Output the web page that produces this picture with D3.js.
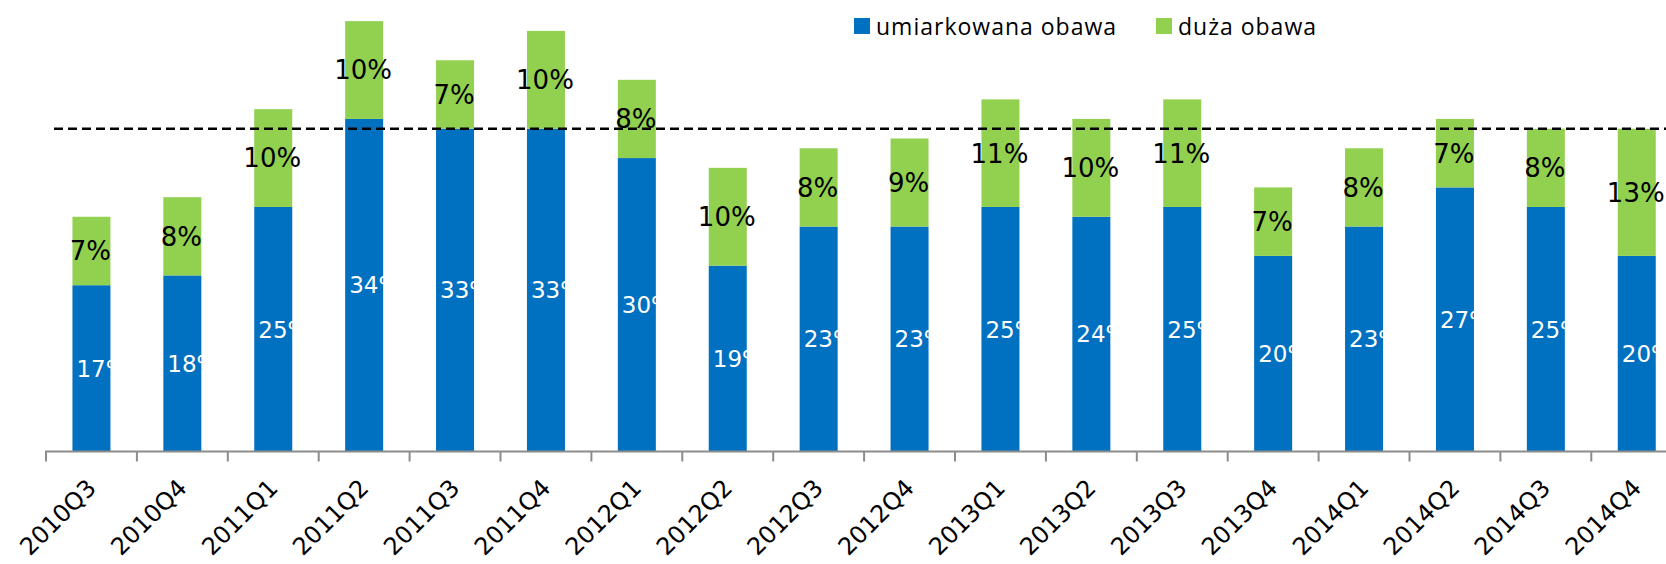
<!DOCTYPE html>
<html>
<head>
<meta charset="utf-8">
<script src="https://cdn.jsdelivr.net/npm/d3@7"></script>
<style>
    body { margin: 0; background: #fff; overflow: hidden; }
    svg { display: block; }
    .lbl { font-family: "DejaVu Sans", sans-serif; }
    .legend text { font-family: "Open Sans", sans-serif; font-size: 23px; letter-spacing: 1px; }
</style>
</head>
<body>
<svg id="chart" width="1666" height="564"></svg>
<script>
const QUARTERS = ["2010Q3", "2010Q4", "2011Q1", "2011Q2", "2011Q3", "2011Q4",
    "2012Q1", "2012Q2", "2012Q3", "2012Q4", "2013Q1", "2013Q2", "2013Q3",
    "2013Q4", "2014Q1", "2014Q2", "2014Q3", "2014Q4"];
const MODERATE = [17, 18, 25, 34, 33, 33, 30, 19, 23, 23, 25, 24, 25, 20, 23, 27, 25, 20];
const SERIOUS = [7, 8, 10, 10, 7, 10, 8, 10, 8, 9, 11, 10, 11, 7, 8, 7, 8, 13];
const SERIES = ["umiarkowana obawa", "duża obawa"];
const COLORS = ["#0070c0", "#92d050"];
const REF_LINE = 33;

window.addEventListener("load", () => {
    const svg = d3.select("#chart");
    const base = 451.5;

    const x = d3.scaleBand()
        .domain(QUARTERS)
        .range([46, 46 + 18 * 90.9])
        .paddingInner(0.582)
        .paddingOuter(0.291);
    const y = d3.scaleLinear().domain([0, 46.16]).range([base, 0]);

    let rows = QUARTERS.map((q, i) => ({q: q, a: MODERATE[i], b: SERIOUS[i]}));
    let stack = d3.stack().keys(["a", "b"])(rows);

    // bars
    svg.append("g").selectAll("g")
        .data(stack)
        .join("g")
        .attr("fill", (d, i) => COLORS[i])
        .selectAll("rect")
        .data(d => d)
        .join("rect")
        .attr("x", d => x(d.data.q))
        .attr("width", x.bandwidth())
        .attr("y", d => y(d[1]))
        .attr("height", d => y(d[0]) - y(d[1]));

    // x axis
    const axis = svg.append("g").attr("transform", "translate(0," + base + ")");
    axis.append("line")
        .attr("x1", 45).attr("x2", 1666)
        .attr("stroke", "#8c8c8c").attr("stroke-width", 2);
    axis.selectAll("line.tick")
        .data(d3.range(QUARTERS.length + 1))
        .join("line")
        .attr("class", "tick")
        .attr("x1", i => 46 + i * 90.9).attr("x2", i => 46 + i * 90.9)
        .attr("y1", 0).attr("y2", 10)
        .attr("stroke", "#8c8c8c").attr("stroke-width", 2);
    axis.selectAll("text")
        .data(QUARTERS)
        .join("text")
        .attr("class", "lbl")
        .attr("text-anchor", "end")
        .attr("font-size", 24)
        .attr("transform", q => "translate(" + (x(q) + x.bandwidth() / 2 + 6) + ",38) rotate(-45)")
        .text(q => q);

    // value labels
    svg.append("g").selectAll("text")
        .data(stack[0])
        .join("text")
        .attr("class", "lbl")
        .attr("fill", "#fff")
        .attr("font-size", 23)
        .attr("dy", "0.36em")
        .attr("x", d => x(d.data.q) + 4)
        .attr("y", d => (y(d[0]) + y(d[1])) / 2)
        .text(d => d.data.a + "%");
    svg.append("g").selectAll("text")
        .data(stack[1])
        .join("text")
        .attr("class", "lbl")
        .attr("fill", "#000")
        .attr("font-size", 26)
        .attr("text-anchor", "middle")
        .attr("dy", "0.36em")
        .attr("x", d => x(d.data.q) + x.bandwidth() / 2 - 1)
        .attr("y", d => (y(d[0]) + y(d[1])) / 2)
        .text(d => d.data.b + "%");

    // reference line
    svg.append("line")
        .attr("x1", 54).attr("x2", 1666)
        .attr("y1", y(REF_LINE)).attr("y2", y(REF_LINE))
        .attr("stroke", "#000")
        .attr("stroke-width", 2.5)
        .attr("stroke-dasharray", "9,5");

    // legend
    const legend = svg.append("g").attr("class", "legend");
    const lx = [854, 1156];
    SERIES.forEach((s, i) => {
        legend.append("rect")
            .attr("x", lx[i]).attr("y", 18)
            .attr("width", 16).attr("height", 16)
            .attr("fill", COLORS[i]);
        legend.append("text")
            .attr("x", lx[i] + 22).attr("y", 35)
            .text(s);
    });
});
</script>
</body>
</html>
